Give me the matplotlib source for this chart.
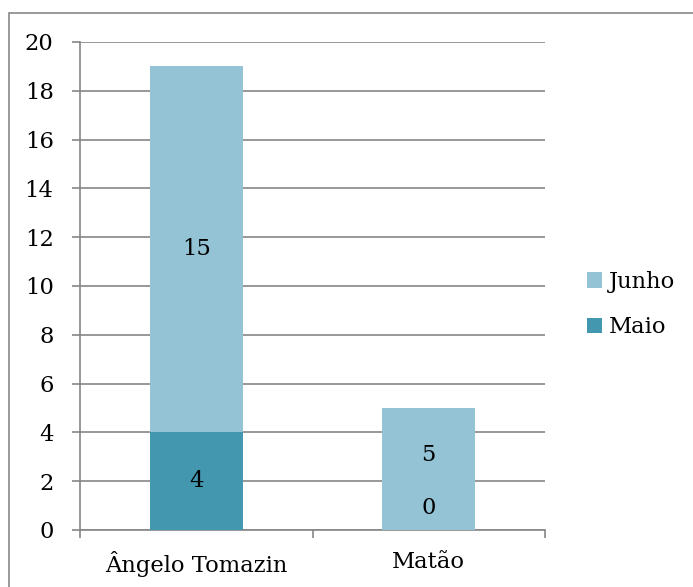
import matplotlib.pyplot as plt
import numpy as np
from matplotlib.patches import Rectangle

# data
categories = ["Ângelo Tomazin", "Matão"]
maio = [4, 0]
junho = [15, 5]
yticks = list(range(0, 21, 2))

c_maio = '#4398b0'
c_junho = '#93c3d5'
grid_c = '#868686'
fs = 16.3

plt.rcParams['font.family'] = ['DejaVu Serif']

fig = plt.figure(figsize=(6.93, 5.87), dpi=100)
ax = fig.add_axes([80 / 693, 1 - 530 / 587, 465 / 693, 488 / 587])

x = np.arange(len(categories))
b1 = ax.bar(x, maio, width=0.4, color=c_maio, label='Maio', zorder=3)
b2 = ax.bar(x, junho, width=0.4, bottom=maio, color=c_junho, label='Junho', zorder=3)

# value labels, centered in each segment (Excel nudges the overlapping pair)
for i in range(len(categories)):
    if maio[i] > 0:
        ax.text(x[i], maio[i] / 2, str(maio[i]), ha='center', va='center', fontsize=fs, zorder=4)
        ax.text(x[i], maio[i] + junho[i] / 2, str(junho[i]), ha='center', va='center', fontsize=fs, zorder=4)
    else:
        ax.annotate(str(maio[i]), (x[i], 0), xytext=(0, 16), textcoords='offset points',
                    ha='center', va='center', fontsize=fs, zorder=4)
        ax.annotate(str(junho[i]), (x[i], junho[i] / 2), xytext=(0, 10), textcoords='offset points',
                    ha='center', va='center', fontsize=fs, zorder=4)

ax.set_xlim(-0.5, len(categories) - 0.5)
ax.set_ylim(0, 20)
ax.set_yticks(yticks)
ax.set_xticks(x)
ax.set_xticklabels(categories)
ax.set_xticks(np.arange(-0.5, len(categories), 1.0), minor=True)

ax.tick_params(axis='y', length=6, width=1.2, color=grid_c, labelsize=fs, pad=13)
ax.tick_params(axis='x', which='major', length=0, labelsize=fs, pad=15)
ax.tick_params(axis='x', which='minor', length=6, width=1.2, color=grid_c)

ax.grid(axis='y', color=grid_c, linewidth=1.2, zorder=0)
ax.set_axisbelow(True)
for s in ['top', 'right']:
    ax.spines[s].set_visible(False)
for s in ['left', 'bottom']:
    ax.spines[s].set_color(grid_c)
    ax.spines[s].set_linewidth(1.2)

handles, labels = ax.get_legend_handles_labels()
ax.legend(handles[::-1], labels[::-1], loc='center left', bbox_to_anchor=(1.065, 0.462),
          frameon=False, fontsize=fs, handlelength=0.7, handleheight=0.7,
          handletextpad=0.3, labelspacing=1.05, borderpad=0)

# outer chart border
fig.patches.append(Rectangle((9 / 693, -0.01), 1.0, 1 - 13 / 587 + 0.01, transform=fig.transFigure,
                             fill=False, edgecolor='#898989', linewidth=1.2))

fig.savefig('out.png', dpi=100)
